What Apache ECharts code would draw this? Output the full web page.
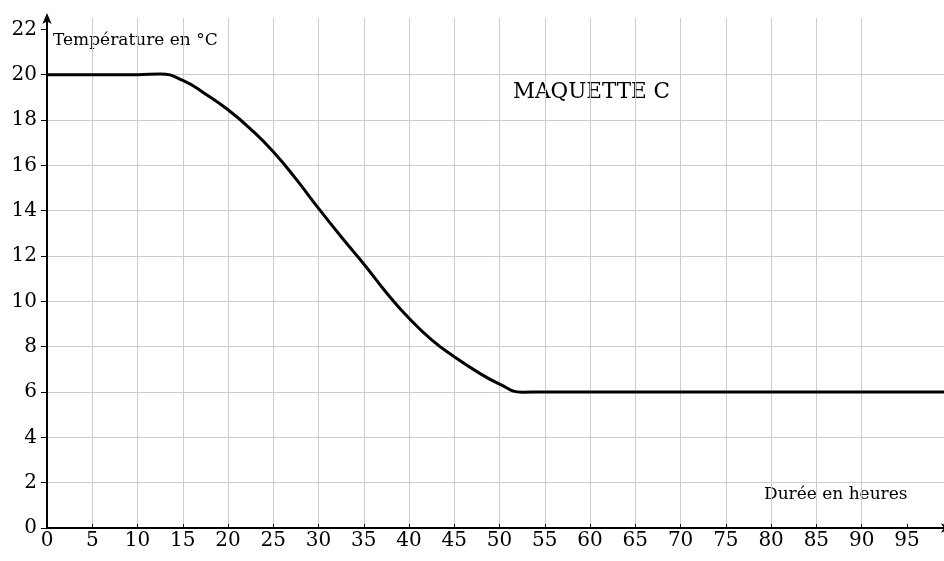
<!DOCTYPE html>
<html>
<head>
<meta charset="utf-8">
<script src="https://cdn.jsdelivr.net/npm/echarts@6/dist/echarts.min.js"></script>
<style>html,body{margin:0;padding:0;background:#fff}#c{width:944px;height:561px}</style>
</head>
<body>
<div id="c"></div>
<script>
// Data
const hours = [0, 2.5, 5, 7.5, 10, 12.5, 15, 17.5, 20, 22.5, 25, 27.5, 30, 32.5, 35, 37.5, 40, 42.5, 45, 47.5, 50, 52.5, 55, 57.5, 60, 70, 80, 90, 99.1];
const temps = [20, 20, 20, 20, 20, 20.03, 19.75, 19.15, 18.45, 17.6, 16.6, 15.4, 14.1, 12.85, 11.65, 10.38, 9.25, 8.3, 7.55, 6.9, 6.35, 5.99, 6.0, 6, 6, 6, 6, 6, 6];
const xTicks = [0, 5, 10, 15, 20, 25, 30, 35, 40, 45, 50, 55, 60, 65, 70, 75, 80, 85, 90, 95];
const yTicks = [0, 2, 4, 6, 8, 10, 12, 14, 16, 18, 20, 22];
const yLabel = 'Température en °C';
const xLabel = 'Durée en heures';
const chartTitle = 'MAQUETTE C';

const FONT = 'DejaVu Serif';
const chart = echarts.init(document.getElementById('c'));
chart.setOption({
  animation: false,
  backgroundColor: '#fff',
  grid: { left: 47, right: 0, top: 18, bottom: 33 },
  xAxis: {
    type: 'value', min: 0, max: 99.1, interval: 5,
    axisLine: { show: true, lineStyle: { color: '#000', width: 2 }, symbol: ['none', 'arrow'], symbolSize: [7, 11], symbolOffset: [0, 8] },
    axisTick: { show: true, inside: true, length: 4, lineStyle: { color: '#000', width: 1 }, customValues: xTicks },
    axisLabel: { color: '#000', fontFamily: FONT, fontSize: 20, margin: 3, customValues: xTicks },
    splitLine: { show: true, showMaxLine: false, showMinLine: false, lineStyle: { color: '#cccccc', width: 1 } }
  },
  yAxis: {
    type: 'value', min: 0, max: 22.5, interval: 2,
    axisLine: { show: true, lineStyle: { color: '#000', width: 2 }, symbol: ['none', 'arrow'], symbolSize: [7, 11], symbolOffset: [0, 5] },
    axisTick: { show: true, length: 6, lineStyle: { color: '#000', width: 1 }, customValues: yTicks },
    axisLabel: { color: '#000', fontFamily: FONT, fontSize: 20, margin: 10, customValues: yTicks },
    splitLine: { show: true, showMaxLine: false, showMinLine: false, lineStyle: { color: '#cccccc', width: 1 } }
  },
  graphic: [
    { type: 'text', left: 53, top: 32, style: { text: yLabel, font: '17px "' + FONT + '"', fill: '#000' } },
    { type: 'text', left: 513, top: 81, style: { text: chartTitle, font: '21.5px "' + FONT + '"', fill: '#000' } },
    { type: 'text', left: 764, top: 486, style: { text: xLabel, font: '17px "' + FONT + '"', fill: '#000' } }
  ],
  series: [{
    type: 'line',
    data: hours.map((h, i) => [h, temps[i]]),
    smooth: 0.5,
    showSymbol: false,
    lineStyle: { color: '#000', width: 3 },
    z: 5
  }]
});
</script>
</body>
</html>
